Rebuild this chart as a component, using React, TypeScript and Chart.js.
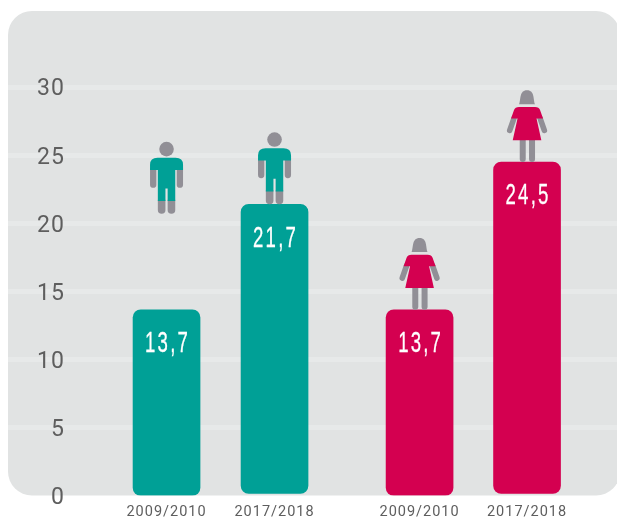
import React, { useEffect, useRef } from "react";
import { Chart, registerables } from "chart.js";

Chart.register(...registerables);

const categories = ["2009/2010", "2017/2018", "2009/2010", "2017/2018"];
const xSlots = [1, 2, 3.343, 4.338];
const boysBases = [0, 0.15];
const boysTops = [13.65, 21.4];
const girlsBases = [0, 0.15];
const girlsTops = [13.65, 24.5];
const valueLabels = ["13,7", "21,7", "13,7", "24,5"];
const figureFeet = [20.7, 21.4, 13.65, 24.5];
const figureKinds = ["boy", "boy", "girl", "girl"];
const yTicks = [0, 5, 10, 15, 20, 25, 30];

const TEAL = "#00a096";
const PINK = "#d40050";
const GREY = "#918f96";
const PANEL = "#e1e3e3";
const BAND = "#e7e9e9";
const TEXT = "#5e5e5e";

function limb(ctx: CanvasRenderingContext2D, x: number, y: number, w: number, h: number) {
  ctx.beginPath();
  ctx.roundRect(x, y, w, h, [0, 0, w / 2, w / 2]);
  ctx.fill();
}

function drawBoy(ctx: CanvasRenderingContext2D, cx: number, foot: number) {
  ctx.fillStyle = GREY;
  ctx.beginPath();
  ctx.arc(cx, foot - 64.7, 7.3, 0, Math.PI * 2);
  ctx.fill();
  limb(ctx, cx - 16.5, foot - 46, 6.3, 20);
  limb(ctx, cx + 10.2, foot - 46, 6.3, 20);
  limb(ctx, cx - 8.7, foot - 14, 7.6, 14);
  limb(ctx, cx + 1.1, foot - 14, 7.6, 14);
  ctx.fillStyle = TEAL;
  ctx.beginPath();
  ctx.moveTo(cx - 16.5, foot - 43.7);
  ctx.lineTo(cx - 16.5, foot - 49);
  ctx.quadraticCurveTo(cx - 16.5, foot - 56, cx - 9, foot - 56);
  ctx.lineTo(cx + 9, foot - 56);
  ctx.quadraticCurveTo(cx + 16.5, foot - 56, cx + 16.5, foot - 49);
  ctx.lineTo(cx + 16.5, foot - 43.7);
  ctx.lineTo(cx + 8.7, foot - 43.7);
  ctx.lineTo(cx + 8.7, foot - 12.7);
  ctx.lineTo(cx + 1.1, foot - 12.7);
  ctx.lineTo(cx + 1.1, foot - 25.4);
  ctx.lineTo(cx - 1.1, foot - 25.4);
  ctx.lineTo(cx - 1.1, foot - 12.7);
  ctx.lineTo(cx - 8.7, foot - 12.7);
  ctx.lineTo(cx - 8.7, foot - 43.7);
  ctx.closePath();
  ctx.fill();
}

function drawGirl(ctx: CanvasRenderingContext2D, cx: number, foot: number) {
  ctx.fillStyle = GREY;
  ctx.beginPath();
  ctx.moveTo(cx - 8, foot - 57.7);
  ctx.bezierCurveTo(cx - 6, foot - 62, cx - 8, foot - 71.7, cx, foot - 71.7);
  ctx.bezierCurveTo(cx + 8, foot - 71.7, cx + 6, foot - 62, cx + 8, foot - 57.7);
  ctx.closePath();
  ctx.fill();
  ctx.strokeStyle = GREY;
  ctx.lineWidth = 5.6;
  ctx.lineCap = "round";
  ctx.beginPath();
  ctx.moveTo(cx - 13, foot - 44);
  ctx.lineTo(cx - 17.3, foot - 31.7);
  ctx.moveTo(cx + 13, foot - 44);
  ctx.lineTo(cx + 17.3, foot - 31.7);
  ctx.stroke();
  limb(ctx, cx - 7.3, foot - 23, 6, 23);
  limb(ctx, cx + 2, foot - 23, 6, 23);
  ctx.fillStyle = PINK;
  ctx.beginPath();
  ctx.moveTo(cx - 8, foot - 55);
  ctx.lineTo(cx + 8, foot - 55);
  ctx.quadraticCurveTo(cx + 12, foot - 55, cx + 13, foot - 52);
  ctx.lineTo(cx + 16, foot - 43.5);
  ctx.lineTo(cx + 9.5, foot - 43.5);
  ctx.lineTo(cx + 14.3, foot - 21.7);
  ctx.lineTo(cx - 14.3, foot - 21.7);
  ctx.lineTo(cx - 9.5, foot - 43.5);
  ctx.lineTo(cx - 16, foot - 43.5);
  ctx.lineTo(cx - 13, foot - 52);
  ctx.quadraticCurveTo(cx - 12, foot - 55, cx - 8, foot - 55);
  ctx.closePath();
  ctx.fill();
}

const panelPlugin = {
  id: "panel",
  beforeDraw(chart: any) {
    const { ctx, chartArea: a } = chart;
    ctx.save();
    ctx.fillStyle = PANEL;
    ctx.beginPath();
    ctx.roundRect(a.left, a.top, a.right - a.left + 3, a.bottom - a.top, 24);
    ctx.fill();
    ctx.restore();
    (ctx as any).letterSpacing = "1px";
  },
  afterDraw(chart: any) {
    (chart.ctx as any).letterSpacing = "0px";
  },
};

const marksPlugin = {
  id: "marks",
  afterDatasetsDraw(chart: any) {
    const { ctx, scales } = chart;
    const bars = [...chart.getDatasetMeta(0).data, ...chart.getDatasetMeta(1).data];
    ctx.save();
    bars.forEach((bar: any, i: number) => {
      const foot = scales.y.getPixelForValue(figureFeet[i]);
      if (figureKinds[i] === "boy") drawBoy(ctx, bar.x, foot);
      else drawGirl(ctx, bar.x, foot);
      ctx.save();
      (ctx as any).letterSpacing = "3.5px";
      ctx.fillStyle = "#ffffff";
      ctx.strokeStyle = "#ffffff";
      ctx.lineWidth = 0.3;
      ctx.textAlign = "center";
      ctx.textBaseline = "middle";
      ctx.font = '30px "Liberation Sans", sans-serif';
      ctx.translate(bar.x + 1, bar.y + 34);
      ctx.scale(0.62, 1);
      ctx.fillText(valueLabels[i], 0, 0);
      ctx.strokeText(valueLabels[i], 0, 0);
      ctx.restore();
    });
    ctx.restore();
  },
};

export default function App() {
  const ref = useRef<HTMLCanvasElement>(null);
  useEffect(() => {
    const chart = new Chart(ref.current!, {
      type: "bar",
      data: {
        datasets: [
          {
            label: "Boys",
            data: xSlots.slice(0, 2).map((x, i) => ({ x, y: [boysBases[i], boysTops[i]] })),
            backgroundColor: TEAL,
          },
          {
            label: "Girls",
            data: xSlots.slice(2).map((x, i) => ({ x, y: [girlsBases[i], girlsTops[i]] })),
            backgroundColor: PINK,
          },
        ],
      },
      options: {
        responsive: false,
        animation: false,
        layout: { padding: { left: 8, top: 11, right: 0, bottom: 0 } },
        datasets: {
          bar: { barThickness: 67, grouped: false, borderRadius: 8, borderSkipped: false },
        },
        plugins: { legend: { display: false }, tooltip: { enabled: false } },
        scales: {
          x: {
            type: "linear",
            offset: false,
            min: -0.468,
            max: 5.171,
            grid: { display: false },
            border: { display: false },
            afterBuildTicks(axis: any) {
              axis.ticks = xSlots.map((value) => ({ value }));
            },
            afterFit(axis: any) {
              axis.height = 21.5;
              axis.paddingLeft = 0;
              axis.paddingRight = 0;
            },
            ticks: {
              autoSkip: false,
              maxRotation: 0,
              minRotation: 0,
              padding: 0,
              color: TEXT,
              font: { family: "Roboto", size: 14.5 },
              callback(value: any) {
                return categories[xSlots.indexOf(value)];
              },
            },
          },
          y: {
            min: 0,
            max: 35.6,
            border: { display: false },
            afterBuildTicks(axis: any) {
              axis.ticks = yTicks.map((value) => ({ value }));
            },
            afterFit(axis: any) {
              axis.width = 0;
              axis.paddingTop = 0;
              axis.paddingBottom = 0;
            },
            grid: {
              drawTicks: false,
              lineWidth: (c: any) => (c.tick && c.tick.value === 0 ? 0 : 5),
              color: BAND,
            },
            ticks: {
              mirror: true,
              crossAlign: "far",
              padding: 31,
              color: TEXT,
              font: { family: "Roboto", size: 23, lineHeight: "5px" },
              callback(value: any) {
                return ["", String(value)];
              },
            },
          },
        },
      } as any,
      plugins: [panelPlugin, marksPlugin],
    });
    return () => chart.destroy();
  }, []);
  return (
    <canvas
      ref={ref}
      width={617}
      height={517}
      style={{ position: "absolute", left: 0, top: 0, display: "block" }}
    />
  );
}
